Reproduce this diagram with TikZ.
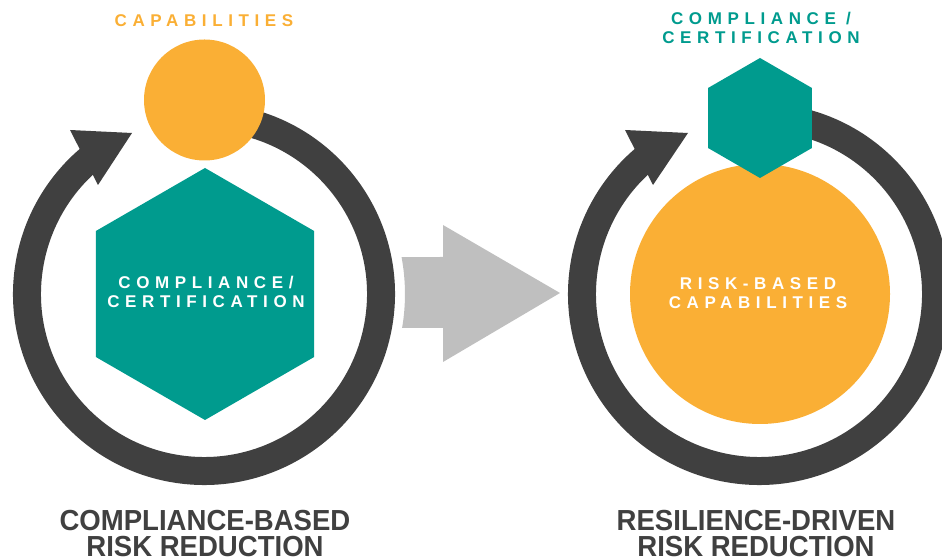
\documentclass[tikz,border=0pt]{standalone}
\usepackage{fontspec}
\setmainfont{Liberation Sans}
\newfontfamily\spacedfont[LetterSpace=33]{Liberation Sans}
\newfontfamily\headfont[FakeStretch=0.95]{Liberation Sans}
\usetikzlibrary{shapes.geometric}
\definecolor{cOrange}{HTML}{FAAF35}
\definecolor{cTeal}{HTML}{009B8E}
\definecolor{cRing}{HTML}{404040}
\definecolor{cGray}{HTML}{BFBFBF}
\tikzset{
  ringarc/.style={draw=cRing, line width=28pt},
  ringhead/.style={fill=cRing},
  hexshape/.style={regular polygon, regular polygon sides=6, shape border rotate=30, fill=cTeal, inner sep=0pt, outer sep=0pt},
  disc/.style={circle, fill=cOrange, inner sep=0pt, outer sep=0pt},
  smalltxt/.style={font=\spacedfont\bfseries\fontsize{17}{19}\selectfont, align=center, inner sep=0pt},
  bigtxt/.style={font=\headfont\bfseries\fontsize{29}{26}\selectfont, text=cRing, align=center, inner sep=0pt},
}
\begin{document}
\begin{tikzpicture}[x=1pt,y=1pt]
\useasboundingbox (0,0) rectangle (942,559);
\coordinate (C1) at (204,265);
\coordinate (C2) at (759,265);
% rings
\draw[ringarc] (C1) ++(80:177) arc[start angle=80, end angle=-229.5, radius=177];
\fill[ringhead] (70,429) -- (132,426) -- (98,374) -- cycle;
\draw[ringarc] (C2) ++(80:177) arc[start angle=80, end angle=-229.5, radius=177];
\fill[ringhead] (625,429) -- (688,426) -- (653,374) -- cycle;
% gray arrow
\fill[cGray] (443,302) -- (443,334) -- (560,266) -- (443,197) -- (443,231) -- (402.1,231.1) arc[start angle=-9.7, end angle=10.6, radius=201] -- cycle;
% left group
\node[disc, minimum size=121pt] (capcircle) at (204.5,459) {};
\node[hexshape, minimum size=252pt] (bighex) at (205,265) {};
\node[smalltxt, text=white] (hextext) at (206,267) {COMPLIANCE/\\CERTIFICATION};
\node[smalltxt, text=cOrange, anchor=base] (captitle) at (204,532) {CAPABILITIES};
% right group
\node[disc, minimum size=260pt] (bigcircle) at (760,265) {};
\node[hexshape, minimum size=120pt] (smallhex) at (760,441) {};
\node[smalltxt, text=white] (circtext) at (758,266) {RISK-BASED\\CAPABILITIES};
\node[smalltxt, text=cTeal] (comptitle) at (761,531.5) {COMPLIANCE /\\CERTIFICATION};
% bottom titles
\node[bigtxt] (lefttitle) at (205,25) {COMPLIANCE-BASED\\RISK REDUCTION};
\node[bigtxt] (righttitle) at (756,25) {RESILIENCE-DRIVEN\\RISK REDUCTION};
\end{tikzpicture}
\end{document}
